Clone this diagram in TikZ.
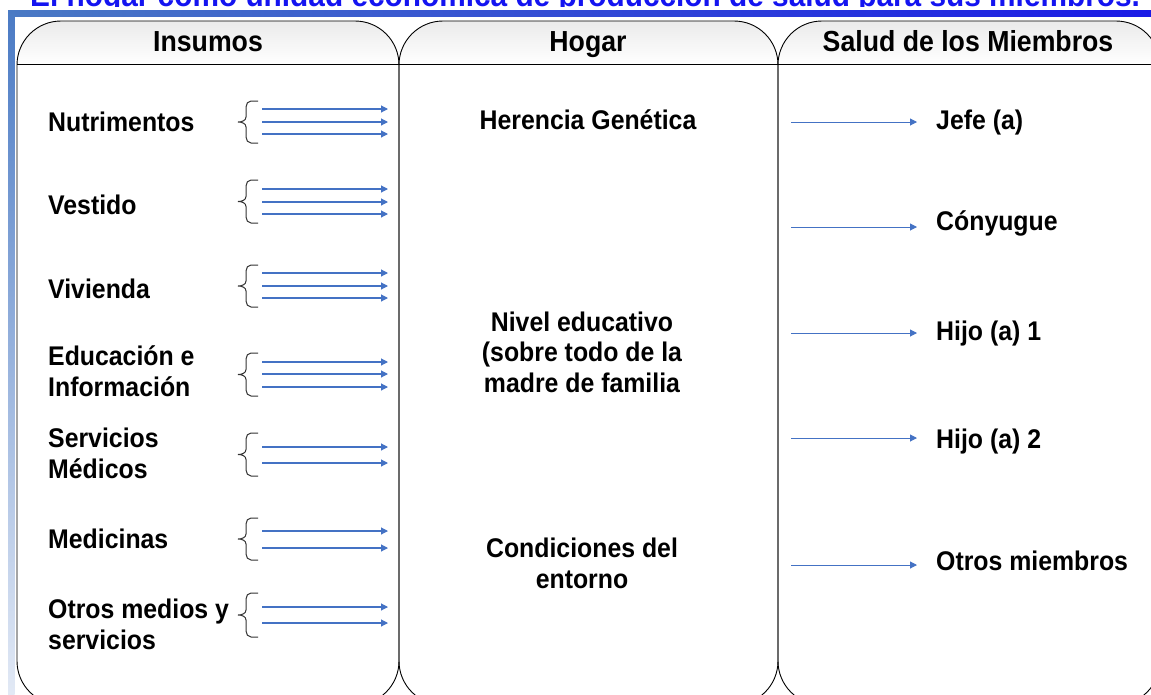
\documentclass[tikz,border=0pt]{standalone}
\usepackage{fontspec}
\setmainfont[FakeStretch=0.92]{Liberation Sans}
\usetikzlibrary{arrows.meta}
\definecolor{azulflecha}{HTML}{4472C4}
\definecolor{azultitulo}{HTML}{1414F0}
\definecolor{azulbarra}{HTML}{4A7AC4}
\definecolor{azulfuerte}{HTML}{1A1AE6}
\definecolor{azulclaro}{HTML}{E2E9F5}
\tikzset{
  texto/.style={font=\bfseries\fontsize{27}{30.5}\selectfont, inner sep=0pt},
  cabecera/.style={texto, font=\bfseries\fontsize{29}{32}\selectfont, anchor=base},
  panel/.style={draw=black, line width=0.9pt, rounded corners=44pt},
  flecha/.style={azulflecha, line width=1.1pt, -{Triangle[length=7pt,width=7pt]}},
  llave/.style={draw=black!80, line width=1pt},
}
\begin{document}
\begin{tikzpicture}[x=1pt,y=-1pt]
\useasboundingbox (0,0) rectangle (1151,694);
\clip (0,0) rectangle (1151,694);
\node[texto, font=\bfseries\fontsize{32.4}{36}\selectfont, text=azultitulo, anchor=base west] (titulo) at (30,6) {El hogar como unidad económica de producción de salud para sus miembros.};
\fill[white] (0,6.5) rectangle (1151,10);
\shade[left color=azulbarra, right color=azulfuerte] (8,10) rectangle (1151,16.5);
\shade[top color=azulbarra, bottom color=azulclaro] (8,10) rectangle (14.5,694);
\foreach \xa/\xb in {17/399, 399/778, 778/1160}{
  \begin{scope}
    \clip[rounded corners=44pt] (\xa,21) rectangle (\xb,705);
    \shade[top color=black!8, bottom color=white] (\xa,21) rectangle (\xb,64);
  \end{scope}
  \draw[panel] (\xa,21) rectangle (\xb,705);
  \draw[line width=0.9pt] (\xa,64) -- (\xb,64);
}
\node[cabecera] (insumos) at (208,51) {Insumos};
\node[cabecera] (hogar) at (588,51) {Hogar};
\node[cabecera] (salud) at (968,51) {Salud de los Miembros};
\node[texto, anchor=base west] (nutri) at (48,131) {Nutrimentos};
\node[texto, anchor=base west] (vestido) at (48,214) {Vestido};
\node[texto, anchor=base west] (vivienda) at (48,298) {Vivienda};
\node[texto, anchor=base west, align=left] (educa) at (48,396) {Educación e\\Información};
\node[texto, anchor=base west, align=left] (servicios) at (48,478) {Servicios\\Médicos};
\node[texto, anchor=base west] (medicinas) at (48,548) {Medicinas};
\node[texto, anchor=base west, align=left] (otros) at (48,649) {Otros medios y\\servicios};
\foreach \ya/\yb in {101/143, 180/223, 265/307, 353/396, 433/476, 518/560, 593/637}{
  \pgfmathsetmacro{\ym}{(\ya+\yb)/2}
  \draw[llave] (258,\ya) -- (251,\ya) to[out=180,in=90] (246,\ya+6) -- (246,\ym-5)
    to[out=-90,in=0] (238,\ym) to[out=0,in=90] (246,\ym+5) -- (246,\yb-6)
    to[out=-90,in=180] (251,\yb) -- (258,\yb);
}
\foreach \y [count=\i] in {109,122,134,189,202,214,273,286,298,362,374,387,447,463,531,548,607,623}{
  \coordinate (ia\i) at (262,\y);
  \coordinate (ib\i) at (388,\y);
  \draw[flecha] (ia\i) -- (ib\i);
}
\node[texto, anchor=base] (herencia) at (588,129) {Herencia Genética};
\node[texto, anchor=base, align=center] (nivel) at (582,392) {Nivel educativo\\(sobre todo de la\\madre de familia};
\node[texto, anchor=base, align=center] (entorno) at (582,588) {Condiciones del\\entorno};
\node[texto, anchor=base west] (jefe) at (936,129) {Jefe (a)};
\node[texto, anchor=base west] (conyugue) at (936,230) {Cónyugue};
\node[texto, anchor=base west] (hijo1) at (936,340) {Hijo (a) 1};
\node[texto, anchor=base west] (hijo2) at (936,448) {Hijo (a) 2};
\node[texto, anchor=base west] (otrosm) at (936,570) {Otros miembros};
\foreach \y [count=\i] in {122,227,333,438,565}{
  \coordinate (sa\i) at (791,\y);
  \coordinate (sb\i) at (917,\y);
  \draw[flecha, line width=1pt] (sa\i) -- (sb\i);
}
\end{tikzpicture}
\end{document}
